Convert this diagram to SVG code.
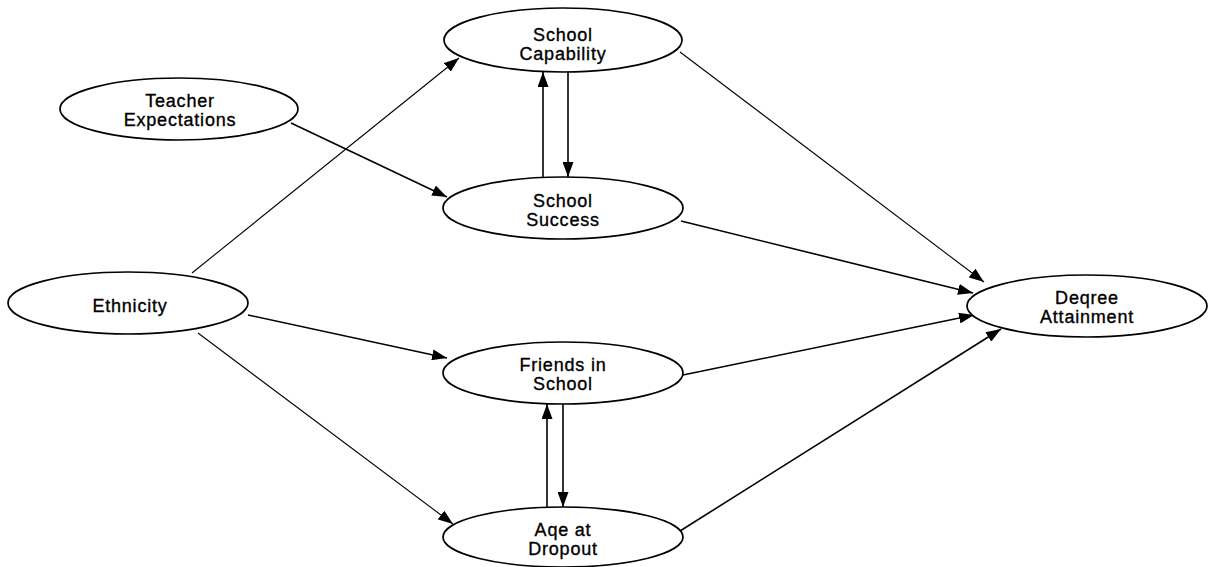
<svg xmlns="http://www.w3.org/2000/svg" width="1208" height="567" viewBox="0 0 1208 567">
  <style>
    .node ellipse { fill: #ffffff; stroke: #000000; stroke-width: 1.7; }
    .node text { font-family: "Liberation Sans", Arial, sans-serif; font-size: 18px; letter-spacing: 0.8px; fill: #000000; stroke: #000000; stroke-width: 0.35; text-anchor: middle; }
    .edge { fill: none; stroke: #000000; stroke-width: 1.6; marker-end: url(#arrow); }
    .thin { stroke-width: 1.1; }
  </style>
  <defs>
    <marker id="arrow" viewBox="0 0 15 11" refX="15" refY="5.5" markerWidth="15" markerHeight="11" markerUnits="userSpaceOnUse" orient="auto">
      <path d="M0,0 L15,5.5 L0,11 z" fill="#000000"/>
    </marker>
  </defs>
  <rect width="1208" height="567" fill="#ffffff"/>

  <!-- connectors -->
  <g id="connectors">
    <line class="edge" x1="291" y1="123" x2="447" y2="197"/>
    <line class="edge thin" x1="192" y1="273" x2="459" y2="58"/>
    <line class="edge" x1="248" y1="315" x2="447" y2="358"/>
    <line class="edge thin" x1="198" y1="333" x2="453" y2="524"/>
    <line class="edge thin" x1="680" y1="52" x2="984" y2="282"/>
    <line class="edge" x1="681" y1="221" x2="973" y2="293"/>
    <line class="edge" x1="683" y1="375" x2="974" y2="315"/>
    <line class="edge" x1="680" y1="531" x2="1001" y2="329"/>
    <line class="edge" x1="543" y1="178" x2="543" y2="72"/>
    <line class="edge" x1="568" y1="72" x2="568" y2="177"/>
    <line class="edge" x1="547" y1="507" x2="547" y2="404"/>
    <line class="edge" x1="563" y1="404" x2="563" y2="507"/>
  </g>

  <g id="school-capability" class="node">
    <ellipse cx="563" cy="40" rx="119" ry="32"/>
    <text x="563" y="41">School</text>
    <text x="563" y="60">Capability</text>
  </g>

  <g id="teacher-expectations" class="node">
    <ellipse cx="179" cy="109" rx="119" ry="31"/>
    <text x="180" y="107">Teacher</text>
    <text x="180" y="126">Expectations</text>
  </g>

  <g id="school-success" class="node">
    <ellipse cx="563" cy="208" rx="120" ry="31"/>
    <text x="563" y="207">School</text>
    <text x="563" y="226">Success</text>
  </g>

  <g id="ethnicity" class="node">
    <ellipse cx="128" cy="303" rx="120" ry="31"/>
    <text x="130" y="312">Ethnicity</text>
  </g>

  <g id="degree-attainment" class="node">
    <ellipse cx="1087" cy="306" rx="120" ry="31"/>
    <text x="1087" y="304">Deqree</text>
    <text x="1087" y="323">Attainment</text>
  </g>

  <g id="friends-in-school" class="node">
    <ellipse cx="563" cy="373" rx="120" ry="31"/>
    <text x="563" y="371">Friends in</text>
    <text x="563" y="390">School</text>
  </g>

  <g id="age-at-dropout" class="node">
    <ellipse cx="563" cy="537" rx="120" ry="30"/>
    <text x="563" y="536">Aqe at</text>
    <text x="563" y="555">Dropout</text>
  </g>
</svg>
